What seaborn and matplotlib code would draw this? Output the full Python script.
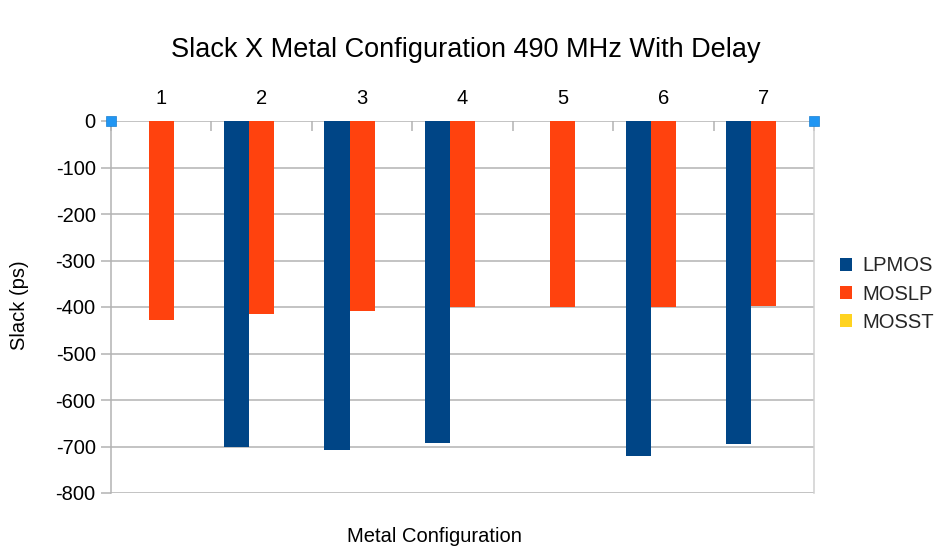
import matplotlib
matplotlib.use("Agg")
import matplotlib.pyplot as plt
from matplotlib.patches import Patch
import numpy as np
import pandas as pd
import seaborn as sns

# Slack per metal configuration (ps); NaN where no LPMOS result exists
configs = ["1", "2", "3", "4", "5", "6", "7"]
lpmos = [np.nan, -702, -708, -692, np.nan, -720, -695]
moslp = [-428, -414, -409, -401, -400, -400, -397]
mosst = [0, 0, 0, 0, 0, 0, 0]

series_names = ["LPMOS", "MOSLP", "MOSST"]
series_colors = ["#004586", "#ff420e", "#ffd320"]
y_ticks = [0, -100, -200, -300, -400, -500, -600, -700, -800]

df = pd.DataFrame({
    "Metal Configuration": configs * 3,
    "Slack": lpmos + moslp + mosst,
    "Series": [s for s in series_names for _ in configs],
})

sns.set_theme(style="white")
plt.rcParams["font.family"] = ["Liberation Sans", "DejaVu Sans"]

fig = plt.figure(figsize=(9.52, 5.57), dpi=100)
ax = fig.add_axes([111 / 952, 1 - 493 / 557, (814 - 111) / 952, (493 - 121) / 557])

sns.barplot(
    data=df, x="Metal Configuration", y="Slack", hue="Series",
    hue_order=series_names, order=configs, palette=series_colors,
    saturation=1, width=0.75, errorbar=None, linewidth=0, legend=False,
    ax=ax, zorder=3,
)

grid_c = "#b3b3b3"
ax.set_ylim(-800, 0)
ax.set_xlim(-0.5, len(configs) - 0.5)
ax.set_yticks(y_ticks)
ax.set_yticklabels([str(t) for t in y_ticks], fontsize=14.5, color="black")
for t in y_ticks:
    ax.axhline(t, color=grid_c, lw=1.1, zorder=1)

# category labels on top, boundary ticks pointing into the plot
ax.xaxis.tick_top()
ax.set_xticks(range(len(configs)))
ax.set_xticklabels(configs, fontsize=14.5, color="black")
ax.set_xticks(np.arange(len(configs) + 1) - 0.5, minor=True)
ax.tick_params(axis="x", which="major", length=0, pad=9)
ax.tick_params(axis="x", which="minor", top=True, direction="in", length=7,
               width=1.1, color=grid_c)
ax.tick_params(axis="y", which="major", left=True, direction="out", length=7,
               width=1.1, color=grid_c, pad=4)

for side in ["top", "bottom"]:
    ax.spines[side].set_visible(False)
ax.spines["left"].set_color(grid_c)
ax.spines["left"].set_linewidth(1.1)
ax.spines["right"].set_color("#cfcfcf")
ax.spines["right"].set_linewidth(1.1)

ax.set_xlabel("")
ax.set_ylabel("")
fig.text(434 / 952, 1 - 537 / 557, "Metal Configuration", ha="center", va="center",
         fontsize=14.5, color="black")
fig.text(20 / 952, 1 - 305 / 557, "Slack (ps)", ha="center", va="center",
         rotation=90, fontsize=14.5, color="black")
fig.text(466 / 952, 1 - 50 / 557, "Slack X Metal Configuration 490 MHz With Delay",
         ha="center", va="center", fontsize=19.5, color="black")

# selection handles at the ends of the zero line
ax.plot([0, 1], [1, 1], transform=ax.transAxes, ls="none", marker="s",
        markersize=7.5, markerfacecolor="#2196f3", markeredgecolor="#1a7fd0",
        markeredgewidth=0.5, clip_on=False, zorder=6)

handles = [Patch(facecolor=c, edgecolor="none") for c in series_colors]
fig.legend(handles, series_names, loc="center left",
           bbox_to_anchor=(832 / 952, 1 - 294 / 557), frameon=False,
           fontsize=14.5, handlelength=0.6, handleheight=0.6, handletextpad=0.5,
           labelspacing=0.45, borderaxespad=0)

fig.savefig("out.png", dpi=100)
